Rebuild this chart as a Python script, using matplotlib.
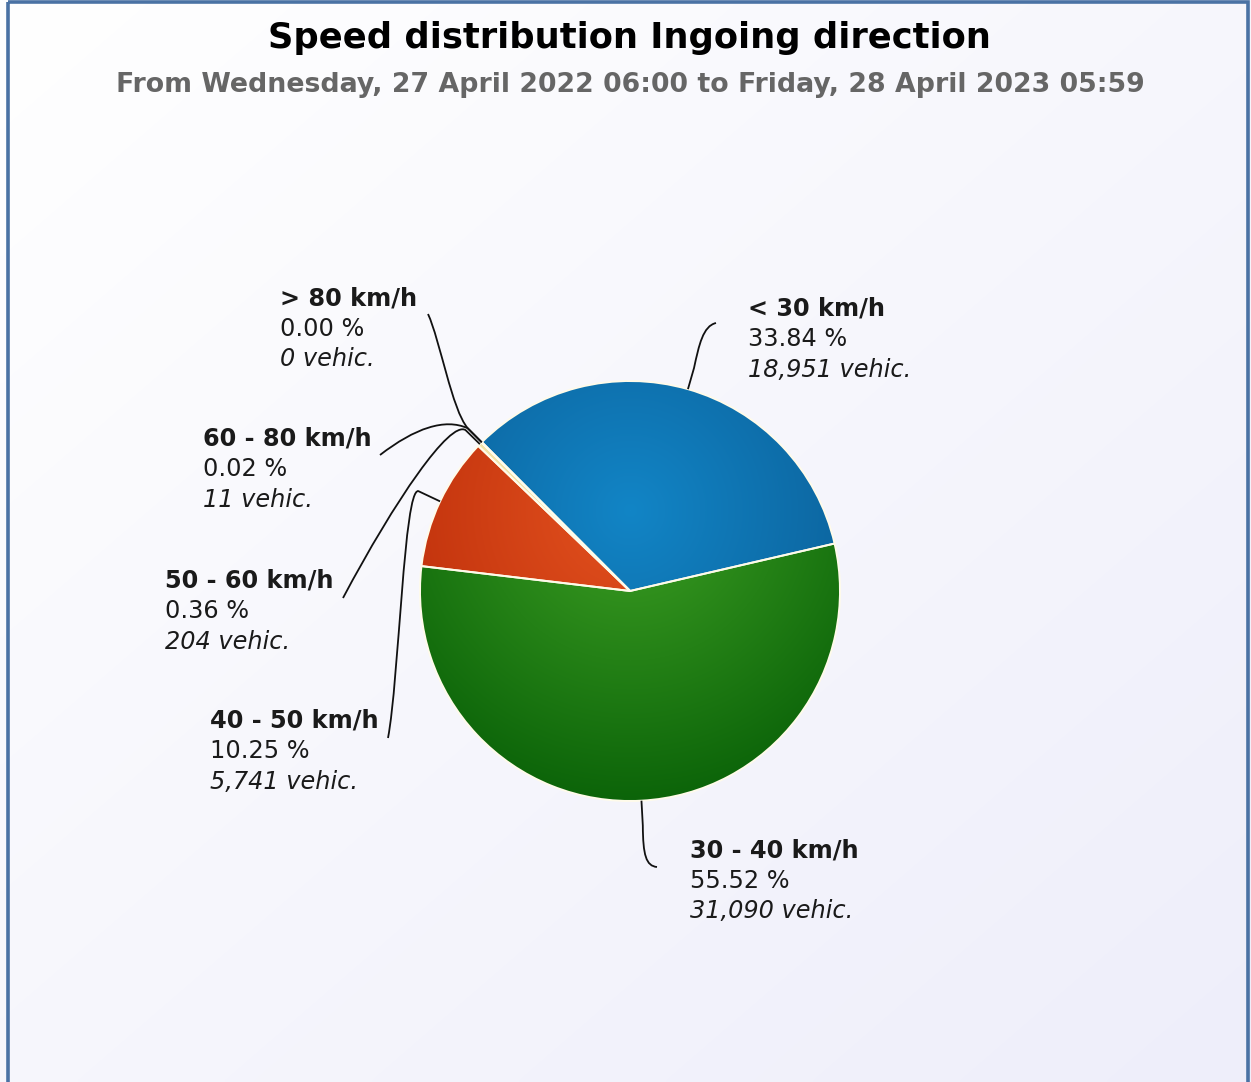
import numpy as np
import matplotlib
matplotlib.use("Agg")
import matplotlib.pyplot as plt
from matplotlib.path import Path
from matplotlib.patches import PathPatch, Rectangle
from matplotlib.colors import to_rgb

plt.rcParams["font.family"] = ["DejaVu Sans"]

# ---------------- data ----------------
categories = ["< 30 km/h", "30 - 40 km/h", "40 - 50 km/h",
              "50 - 60 km/h", "60 - 80 km/h", "> 80 km/h"]
vehicles = [18951, 31090, 5741, 204, 11, 0]

title = "Speed distribution Ingoing direction"
subtitle = "From Wednesday, 27 April 2022 06:00 to Friday, 28 April 2023 05:59"

# ---------------- style ----------------
light_colors = ["#1285c6", "#3ea024", "#e4521f", "#f6ecb8", "#b39ddb", "#888888"]
dark_colors = ["#0a5a92", "#0a6208", "#b82a08", "#eedc98", "#7e57c2", "#666666"]

W, H = 1251, 1082
fig = plt.figure(figsize=(W / 100, H / 100), dpi=100)
ax = fig.add_axes([0, 0, 1, 1])

# background gradient
yy, xx = np.mgrid[0:H:4, 0:W:4]
t = np.clip((xx / W) * 0.5 + (yy / H) * 0.5, 0, 1)[..., None]
c0 = np.array([1.0, 1.0, 1.0])
c1 = np.array([238, 238, 250]) / 255
bg = c0 * (1 - t) + c1 * t
ax.imshow(bg, extent=(0, W, H, 0), aspect="auto", zorder=0, interpolation="bilinear")

# pie
cx, cy, R = 630, 591, 210
wedges, _ = ax.pie(vehicles, startangle=-134.9, counterclock=True,
                   center=(cx, cy), radius=R,
                   colors=light_colors,
                   wedgeprops=dict(edgecolor="#fffbea", linewidth=1.4, zorder=3))
ax.set_xlim(0, W)
ax.set_ylim(H, 0)
ax.set_aspect("auto")
ax.axis("off")

# radial gradient fill in each wedge
gx, gy = 630, 510
gr = 300
ys, xs = np.mgrid[cy - R - 2:cy + R + 2:1.0, cx - R - 2:cx + R + 2:1.0]
tt = np.clip(np.hypot(xs - gx, ys - gy) / gr, 0, 1)[..., None]
for w, lc, dc in zip(wedges, light_colors, dark_colors):
    img = np.array(to_rgb(lc)) * (1 - tt) + np.array(to_rgb(dc)) * tt
    im = ax.imshow(img, extent=(cx - R - 2, cx + R + 2, cy + R + 2, cy - R - 2),
                   aspect="auto", zorder=2, interpolation="bilinear")
    im.set_clip_path(w)
    w.set_facecolor("none")
ax.set_xlim(0, W)
ax.set_ylim(H, 0)

# labels & connectors (layout)
label_pos = [(748, 308), (690, 849), (210, 720), (165, 580), (203, 438), (280, 297)]
conn_offset = [22, 25, 24, 20, 20, 20]
conn_ctrl = [
    [(699, 345), (703, 326), (716, 323)],
    [(643, 855), (646, 866), (657, 867)],
    [(404, 488), (399, 680), (388, 738)],
    [(450, 420), (395, 500), (343, 598)],
    [(445, 418), (415, 428), (380, 455)],
    [(452, 410), (440, 340), (428, 314)],
]
total = sum(vehicles)
line_gap = 30.5
fs = 17.3
for i, w in enumerate(wedges):
    mid = np.deg2rad((w.theta1 + w.theta2) / 2)
    ex, ey = cx + R * np.cos(mid), cy + R * np.sin(mid)
    d = conn_offset[i]
    bx, by = cx + (R + d) * np.cos(mid), cy + (R + d) * np.sin(mid)
    p1, p2, p3 = conn_ctrl[i]
    verts = [(ex, ey), (bx, by), p1, p2, p3]
    codes = [Path.MOVETO, Path.LINETO, Path.CURVE4, Path.CURVE4, Path.CURVE4]
    ax.add_patch(PathPatch(Path(verts, codes), facecolor="none",
                           edgecolor="#111111", lw=1.3, zorder=4))
    lx, ly = label_pos[i]
    pct = vehicles[i] / total * 100
    ax.text(lx, ly + 8, categories[i], fontsize=fs, fontweight="bold",
            color="#1a1a1a", ha="left", va="baseline", zorder=5)
    ax.text(lx, ly + line_gap + 8, f"{pct:.2f} %", fontsize=fs,
            color="#1a1a1a", ha="left", va="baseline", zorder=5)
    ax.text(lx, ly + 2 * line_gap + 8, f"{vehicles[i]:,} vehic.", fontsize=fs,
            style="italic", color="#1a1a1a", ha="left", va="baseline", zorder=5)

# titles
ax.text(629, 38, title, fontsize=25.4, fontweight="bold", color="#000000",
        ha="center", va="center", zorder=5)
ax.text(630, 85, subtitle, fontsize=19.3, fontweight="bold", color="#666666",
        ha="center", va="center", zorder=5)

# frame border
ax.add_patch(Rectangle((8, 2), 1240, 1100, facecolor="none",
                       edgecolor="#4a72a4", lw=2.6, zorder=6))

fig.savefig("out.png", dpi=100)
